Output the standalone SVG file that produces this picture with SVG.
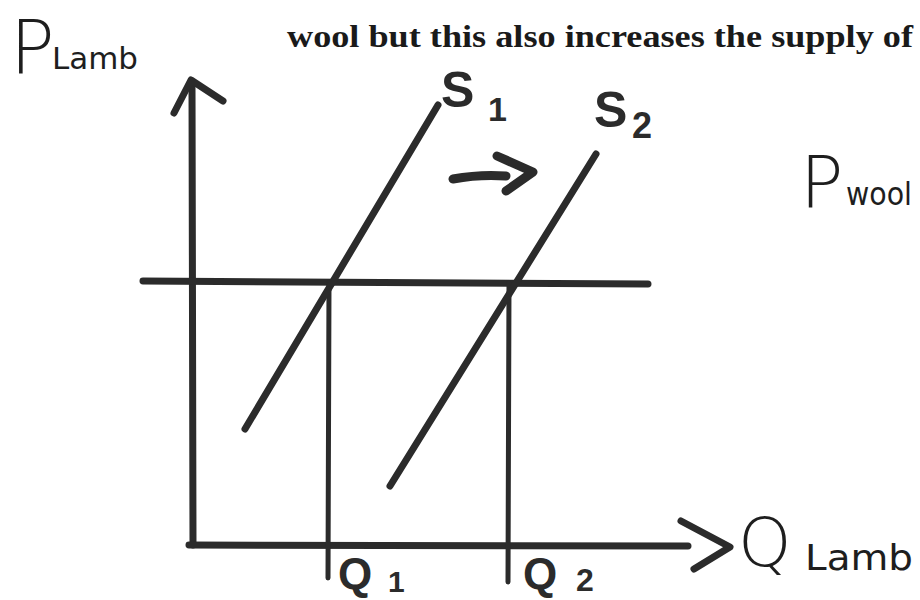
<svg xmlns="http://www.w3.org/2000/svg" width="920" height="600" viewBox="0 0 920 600">
<style>
.ln{stroke:#2b2b2b;stroke-width:7;stroke-linecap:round;stroke-linejoin:round;fill:none}
.th{stroke:#2b2b2b;stroke-width:5;stroke-linecap:round;stroke-linejoin:round;fill:none}
.ar{stroke:#2b2b2b;stroke-width:9;stroke-linecap:round;stroke-linejoin:round;fill:none}
.hand{font-family:"DejaVu Sans","Liberation Sans",sans-serif;fill:#1e1e1e}
.bold{font-family:"Liberation Sans",sans-serif;font-weight:bold;fill:#2b2b2b}
.print{font-family:"Liberation Serif",serif;font-weight:bold;fill:#1a1a1a}
</style>
<rect width="920" height="600" fill="#ffffff"/>
<text class="print" x="287" y="47" font-size="32" textLength="626" lengthAdjust="spacingAndGlyphs">wool but this also increases the supply of</text>
<g id="axes">
<path class="ln" d="M193,545 L192,84"/>
<path class="ln" d="M174,113 L191,80 L223,101"/>
<path class="ln" d="M189,545 L688,546"/>
<path class="ln" d="M681,521 L730,547 L694,569"/>
</g>
<g id="connectors">
<path class="ln" d="M143,281 L648,284"/>
<path class="th" d="M329,283 L328,578"/>
<path class="th" d="M509,283 L508,582"/>
<path class="ar" d="M453,179 Q480,174 506,176"/>
<path class="ar" d="M497,156 L533,172 L506,191"/>
</g>
<g id="S1">
<path class="ln" stroke-width="6" d="M245,429 L438,105"/>
<text class="bold" x="441" y="107" font-size="50">S</text>
<text class="bold" x="488" y="121" font-size="34">1</text>
</g>
<g id="S2">
<path class="ln" stroke-width="6" d="M390,486 L596,154"/>
<text class="bold" x="594" y="127" font-size="50">S</text>
<text class="bold" x="632" y="138" font-size="36">2</text>
</g>
<g id="Q1">
<text class="bold" x="338" y="589" font-size="44">Q</text>
<text class="bold" x="388" y="592" font-size="30">1</text>
</g>
<g id="Q2">
<text class="bold" x="523" y="589" font-size="44">Q</text>
<text class="bold" x="576" y="591" font-size="32">2</text>
</g>
<g id="label-PLamb">
<text class="hand" x="10" y="74" font-size="74" font-weight="200">P</text>
<text class="hand" x="52" y="69" font-size="31" textLength="86" lengthAdjust="spacingAndGlyphs">Lamb</text>
</g>
<g id="label-Pwool">
<text class="hand" x="800" y="207" font-size="72" font-weight="200">P</text>
<text class="hand" x="846" y="205" font-size="32" textLength="66" lengthAdjust="spacingAndGlyphs">wool</text>
</g>
<g id="label-QLamb">
<text class="hand" x="738" y="566" font-size="68" font-weight="200">Q</text>
<text class="hand" x="805" y="570" font-size="36" textLength="108" lengthAdjust="spacingAndGlyphs">Lamb</text>
</g>
</svg>
